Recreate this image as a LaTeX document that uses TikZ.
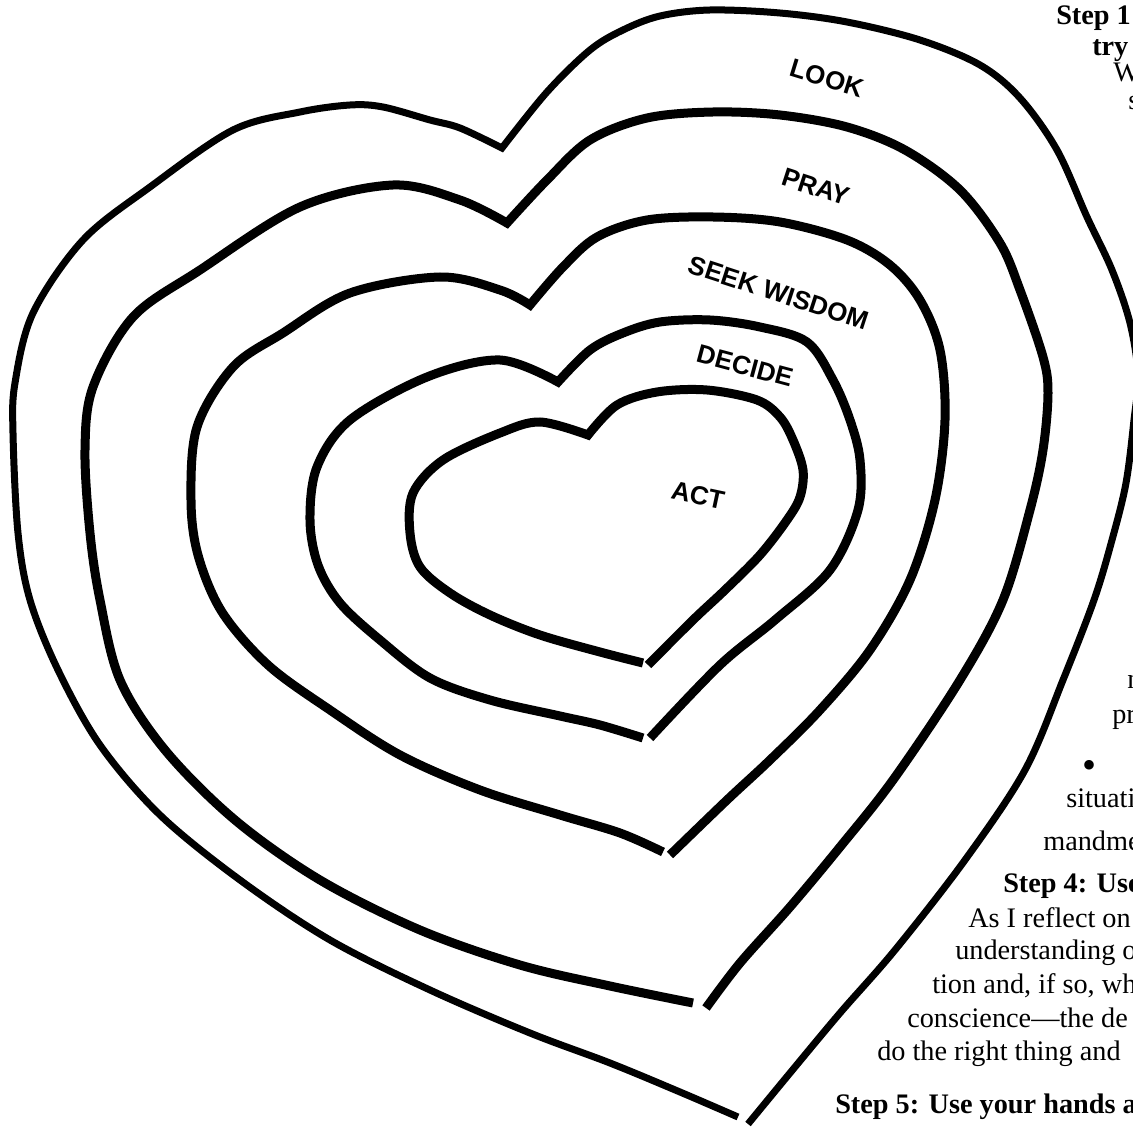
\documentclass[tikz,border=0pt]{standalone}
\usepackage{fontspec}
\setmainfont{Liberation Serif}
\newfontfamily\lblfont{Liberation Sans}
\begin{document}
\begin{tikzpicture}[x=0.75pt,y=-0.75pt,
  heart/.style={line width=6.75pt, line join=miter},
  heartthin/.style={line width=5.25pt, line join=miter},
  lbl/.style={font=\lblfont\bfseries\fontsize{19.5}{22}\selectfont, inner sep=0pt},
  txt/.style={font=\fontsize{21.2}{25}\selectfont, anchor=base west, inner sep=0pt},
  txtb/.style={font=\bfseries\fontsize{21.2}{25}\selectfont, anchor=base west, inner sep=0pt}]
\useasboundingbox (0,0) rectangle (1133,1127);
\clip (0,0) rectangle (1133,1127);
\fill[white] (0,0) rectangle (1133,1127);

% heart 1 (outer)
\draw[heartthin] plot[smooth,tension=0.55] coordinates {(738,1117) (680,1092) (610,1063) (530,1033) (430,990) (330,940) (240,880) (160,815) (100,745) (58,670) (30,600) (18,533) (13,433) (15,383) (33,313) (83,240) (150,187) (233,130) (300,112) (350,105) (383,107) (430,120) (460,128) (502,148)}
  -- plot[smooth,tension=0.55] coordinates {(502,148) (547,92) (590,50) (623,30) (660,16) (710,10) (780,13) (847,22) (920,40) (980,65) (1020,98) (1057,150) (1087,217) (1112,270) (1130,323) (1138,375) (1134,420) (1126,483) (1112,540) (1094,600) (1063,680) (1025,770) (965,860) (895,950) (840,1013) (790,1073) (748,1124)};

% heart 2
\draw[heart] plot[smooth,tension=0.55] coordinates {(693,1003) (610,986) (520,965) (420,930) (320,880) (235,820) (165,750) (120,680) (100,600) (90,533) (85,450) (93,387) (133,317) (200,270) (300,207) (393,185) (460,200) (507,223)}
  -- plot[smooth,tension=0.55] coordinates {(507,223) (547,180) (590,140) (647,118) (713,112) (780,115) (847,127) (905,150) (960,190) (1000,243) (1020,290) (1043,357) (1048,393) (1043,450) (1030,510) (1003,600) (960,680) (893,780) (840,847) (790,907) (740,963) (706,1008)};

% heart 3
\draw[heart] plot[smooth,tension=0.55] coordinates {(663,852) (620,833) (560,815) (480,790) (400,755) (330,710) (268,665) (222,612) (198,555) (191,500) (197,427) (233,367) (283,333) (350,293) (440,277) (500,290) (530,305)}
  -- plot[smooth,tension=0.55] coordinates {(530,305) (563,267) (597,237) (647,220) (713,217) (780,222) (847,240) (890,265) (920,300) (940,350) (945,420) (935,500) (910,580) (870,650) (820,710) (770,760) (727,800) (670,855)};

% heart 4
\draw[heart] plot[smooth,tension=0.55] coordinates {(643,738) (600,725) (560,716) (490,700) (430,678) (380,640) (340,603) (318,565) (310,520) (317,467) (350,420) (427,377) (500,360) (558,382)}
  -- plot[smooth,tension=0.55] coordinates {(558,382) (590,350) (623,333) (660,322) (710,320) (760,327) (807,342) (833,380) (850,420) (860,460) (858,510) (830,570) (775,620) (720,665) (650,738)};

% heart 5 (inner)
\draw[heart] plot[smooth,tension=0.55] coordinates {(643,663) (600,652) (540,635) (490,615) (450,593) (420,567) (410,533) (413,493) (443,460) (500,433) (540,422) (588,435)}
  -- plot[smooth,tension=0.55] coordinates {(588,435) (617,405) (657,392) (707,390) (757,400) (780,417) (793,440) (803,470) (800,497) (787,520) (760,555) (725,590) (693,620) (648,665)};

% ring labels
\node[lbl, rotate=-17] (look) at (827,78) {LOOK};
\node[lbl, rotate=-18] (pray) at (816,187) {PRAY};
\node[lbl, rotate=-18] (seek) at (779,293) {SEEK WISDOM};
\node[lbl, rotate=-15] (decide) at (745,366) {DECIDE};
\node[lbl, rotate=-12] (act) at (698,495) {ACT};

% clipped text column on the right
\node[txtb] (s1) at (1056,25) {Step 1};
\node[txtb] (t1) at (1092,56) {try};
\node[txt] (t2) at (1113,82) {W};
\node[txt] (t3) at (1128,110) {s};
\node[txt] (t4) at (1127,688) {n};
\node[txt] (t5) at (1112,723) {pr};
\node[txt, font=\fontsize{30}{30}\selectfont] (t6) at (1082,778) {•};
\node[txt] (t7) at (1066,807) {situati};
\node[txt] (t8) at (1043,850) {mandme};
\node[txtb] (s4) at (1003,892) {Step 4: Use};
\node[txt] (t9) at (968,927) {As I reflect on};
\node[txt] (t10) at (955,959) {understanding o};
\node[txt] (t11) at (932,993) {tion and, if so, wh};
\node[txt] (t12) at (907,1027) {conscience—the de};
\node[txt] (t13) at (877,1060) {do the right thing and};
\node[txtb] (s5) at (835,1113) {Step 5: Use your hands a};
\end{tikzpicture}
\end{document}
